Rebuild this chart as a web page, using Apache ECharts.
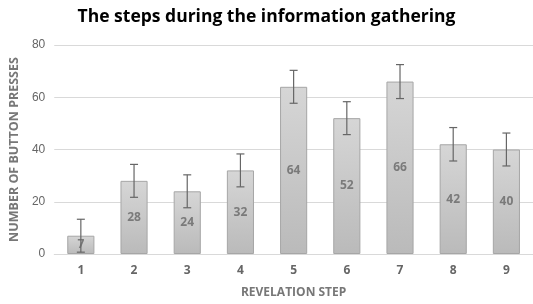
<!DOCTYPE html>
<html>
<head>
<meta charset="utf-8">
<script src="https://cdn.jsdelivr.net/npm/echarts@6/dist/echarts.min.js"></script>
<style>
  html, body { margin: 0; padding: 0; background: #fff; }
  #chart { width: 533px; height: 304px; }
</style>
</head>
<body>
<div id="chart"></div>
<script>
var steps = ['1', '2', '3', '4', '5', '6', '7', '8', '9'];
var presses = [7, 28, 24, 32, 64, 52, 66, 42, 40];
var errors = [6.3, 6.3, 6.3, 6.3, 6.3, 6.3, 6.5, 6.4, 6.3];
var yTicks = [0, 20, 40, 60, 80];

var chart = echarts.init(document.getElementById('chart'));

// error bar data: [index, low, high]
var errData = presses.map(function (v, i) {
    return [i, v - errors[i], v + errors[i]];
});

var option = {
    animation: false,
    title: {
        text: 'The steps during the information gathering',
        left: 'center',
        top: 3,
        textStyle: {
            fontFamily: 'Open Sans',
            fontWeight: 'bold',
            fontSize: 17.5,
            color: '#000'
        }
    },
    grid: {
        left: 54,
        right: -8,
        top: 45,
        bottom: 48
    },
    xAxis: {
        type: 'category',
        data: steps,
        name: 'REVELATION STEP',
        nameLocation: 'middle',
        nameGap: 33,
        nameTextStyle: {
            fontFamily: 'Open Sans',
            fontWeight: 'bold',
            fontSize: 12,
            color: '#777'
        },
        axisLine: { lineStyle: { color: '#d9d9d9' } },
        axisTick: { show: false },
        axisLabel: {
            fontFamily: 'Open Sans',
            fontWeight: 'bold',
            fontSize: 12,
            color: '#666',
            margin: 11
        }
    },
    yAxis: {
        type: 'value',
        min: yTicks[0],
        max: yTicks[yTicks.length - 1],
        interval: 20,
        name: 'NUMBER OF BUTTON PRESSES',
        nameLocation: 'middle',
        nameGap: 31,
        nameTextStyle: {
            fontFamily: 'Open Sans',
            fontWeight: 'bold',
            fontSize: 12.5,
            color: '#777'
        },
        axisLine: { show: false },
        axisTick: { show: false },
        axisLabel: {
            fontFamily: 'Liberation Sans',
            fontSize: 12,
            color: '#666',
            margin: 9
        },
        splitLine: { lineStyle: { color: '#d9d9d9' } }
    },
    series: [{
        type: 'bar',
        data: presses,
        barWidth: '51%',
        itemStyle: {
            color: new echarts.graphic.LinearGradient(0, 0, 0, 1, [
                { offset: 0, color: '#d6d6d6' },
                { offset: 1, color: '#bababa' }
            ]),
            borderColor: '#a6a6a6',
            borderWidth: 1
        },
        label: {
            show: true,
            position: 'inside',
            fontFamily: 'Open Sans',
            fontWeight: 'bold',
            fontSize: 12,
            color: '#7a7a7a'
        }
    }, {
        type: 'custom',
        data: errData,
        z: 10,
        renderItem: function (params, api) {
            var x = api.value(0);
            var lo = api.coord([x, api.value(1)]);
            var hi = api.coord([x, api.value(2)]);
            var cap = 4;
            var style = { stroke: '#666', lineWidth: 1.2 };
            return {
                type: 'group',
                children: [
                    { type: 'line', shape: { x1: hi[0], y1: hi[1], x2: lo[0], y2: lo[1] }, style: style },
                    { type: 'line', shape: { x1: hi[0] - cap, y1: hi[1], x2: hi[0] + cap, y2: hi[1] }, style: style },
                    { type: 'line', shape: { x1: lo[0] - cap, y1: lo[1], x2: lo[0] + cap, y2: lo[1] }, style: style }
                ]
            };
        }
    }]
};

chart.setOption(option);
</script>
</body>
</html>
